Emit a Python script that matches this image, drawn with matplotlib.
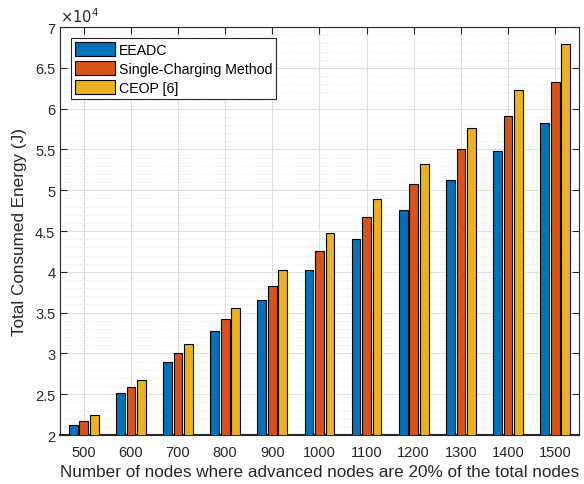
import numpy as np
import matplotlib.pyplot as plt
from matplotlib.ticker import MultipleLocator

plt.rcParams['font.family'] = ['Liberation Sans', 'DejaVu Sans']

nodes = ['500', '600', '700', '800', '900', '1000', '1100', '1200', '1300', '1400', '1500']
eeadc = [2.12, 2.51, 2.90, 3.28, 3.65, 4.02, 4.40, 4.76, 5.12, 5.48, 5.83]
single = [2.17, 2.59, 3.00, 3.42, 3.83, 4.25, 4.67, 5.08, 5.50, 5.91, 6.33]
ceop = [2.25, 2.68, 3.11, 3.56, 4.02, 4.48, 4.89, 5.32, 5.76, 6.23, 6.79]
labels = ['EEADC', 'Single-Charging Method', 'CEOP [6]']
colors = ['#0072BD', '#D95319', '#EDB120']

fig = plt.figure(figsize=(5.84, 4.85), dpi=100)
ax = fig.add_axes([0.103, 0.101, 0.888, 0.841])

x = np.arange(1, len(nodes) + 1)
w = 0.185
for i, (vals, lab, c) in enumerate(zip([eeadc, single, ceop], labels, colors)):
    ax.bar(x + (i - 1) * 0.222, vals, width=w, color=c, edgecolor='black',
           linewidth=0.8, label=lab, zorder=3)

ax.set_xlim(0.5, 11.5)
ax.set_ylim(2, 7)
ax.set_xticks(x)
ax.set_xticklabels(nodes)
ax.set_yticks([2, 2.5, 3, 3.5, 4, 4.5, 5, 5.5, 6, 6.5, 7])
ax.set_yticklabels(['2', '2.5', '3', '3.5', '4', '4.5', '5', '5.5', '6', '6.5', '7'])
ax.yaxis.set_minor_locator(MultipleLocator(0.1))
ax.tick_params(which='both', direction='in', top=True, right=True, labelsize=10.5, colors='#262626')
ax.tick_params(which='major', length=5)
ax.tick_params(axis='x', pad=7)
ax.tick_params(which='minor', length=0)
ax.grid(which='major', color='#dfdfdf', linewidth=0.8, zorder=0)
ax.grid(which='minor', axis='y', color='#cfcfcf', linestyle=(0, (1, 3)), linewidth=0.6, zorder=0)
ax.set_axisbelow(True)
for s in ax.spines.values():
    s.set_color('#262626')
    s.set_linewidth(0.8)
ax.spines['bottom'].set_linewidth(1.5)

ax.set_xlabel('Number of nodes where advanced nodes are 20% of the total nodes', fontsize=12.3, color='#262626', labelpad=4)
ax.set_ylabel('Total Consumed Energy (J)', fontsize=12.3, color='#262626', labelpad=6)
ax.text(0.0, 1.005, r'$\times10^4$', transform=ax.transAxes, fontsize=10.5, color='#262626', va='bottom', ha='left')

leg = ax.legend(loc='upper left', bbox_to_anchor=(0.0, 1.0), fontsize=10.2, fancybox=False,
                edgecolor='#262626', framealpha=1, handlelength=2.8, handleheight=1.15,
                handletextpad=0.3, borderpad=0.25, labelspacing=0.3, borderaxespad=0.8)
leg.get_frame().set_linewidth(0.8)

fig.savefig('out.png', dpi=100)
